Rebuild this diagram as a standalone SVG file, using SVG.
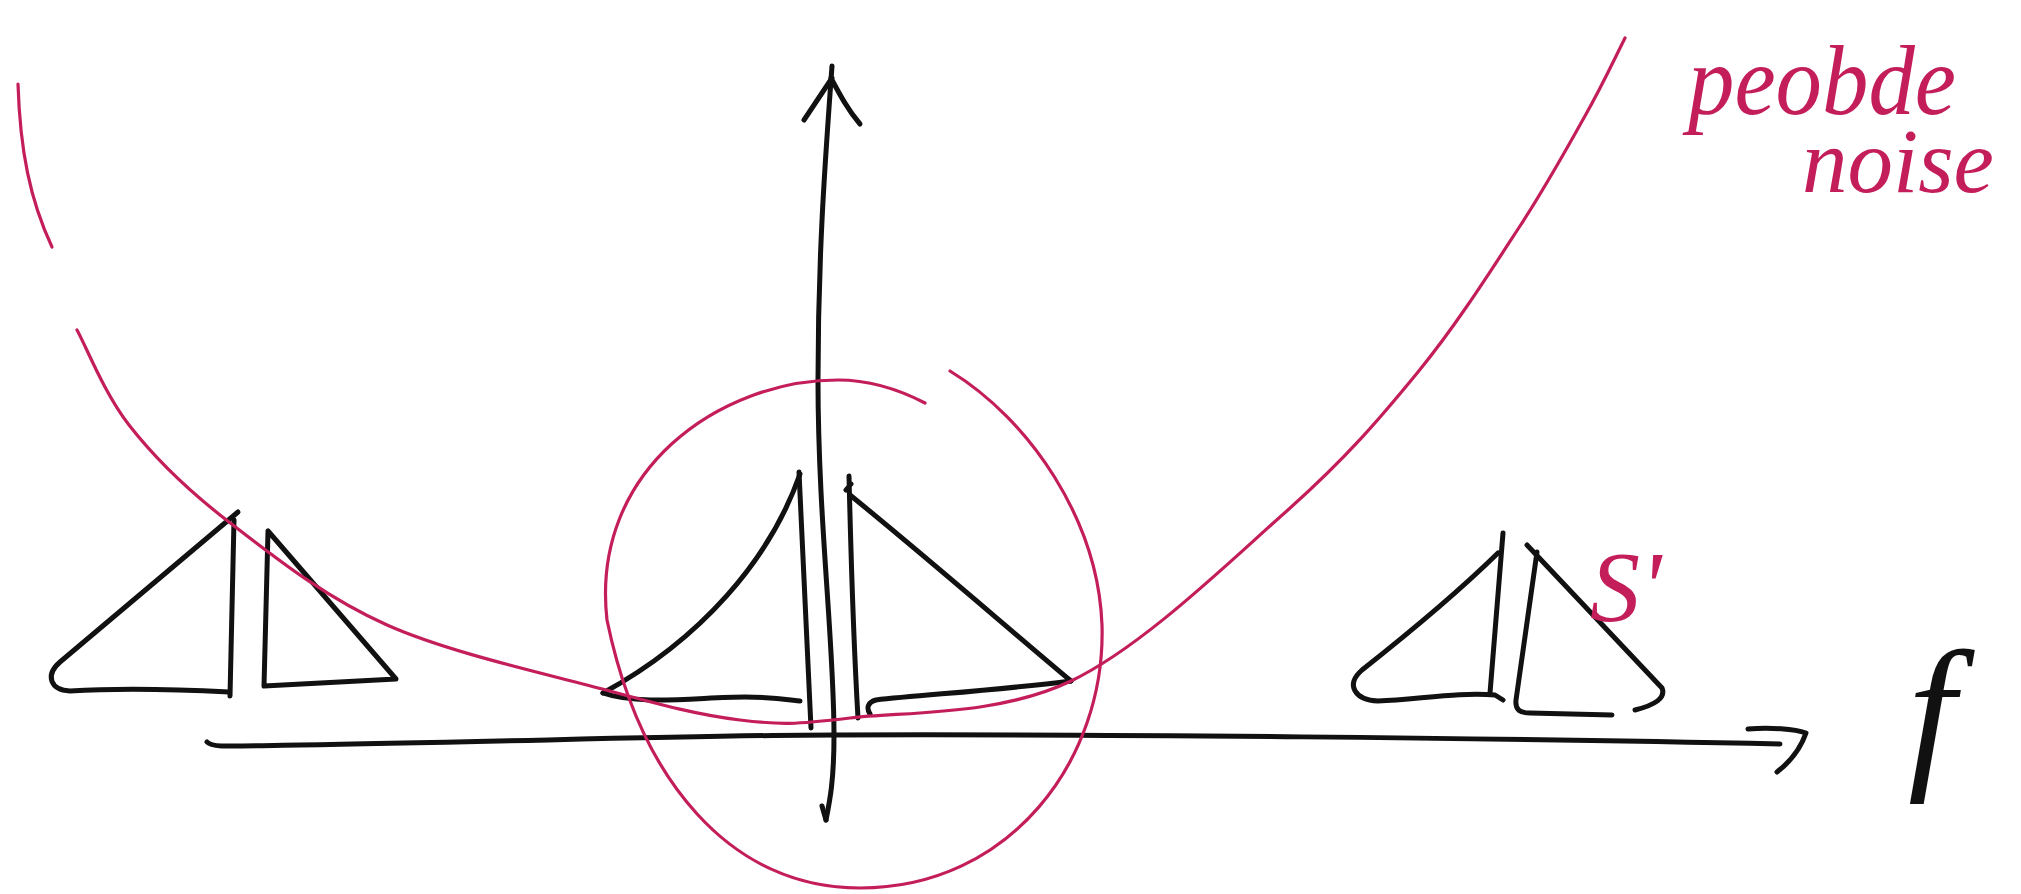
<svg xmlns="http://www.w3.org/2000/svg" width="2021" height="894" viewBox="0 0 2021 894">
<style>
.ink{fill:none;stroke:#111;stroke-width:5;stroke-linecap:round;stroke-linejoin:round}
.red{fill:none;stroke:#c41e5a;stroke-width:3.2;stroke-linecap:round;stroke-linejoin:round}
.lbl{font-family:"Liberation Serif",serif;font-style:italic}
</style>
<rect width="2021" height="894" fill="#fff"/>
<g id="axes">
  <path class="ink" d="M 826,820 C 830,800 834,780 834,735 C 834,640 818,520 818,380 C 818,250 826,150 832,66"/>
  <path class="ink" d="M 826,820 L 822,806"/>
  <path class="ink" d="M 832,78 L 804,120 M 831,78 C 840,95 848,110 860,124" />
  <path class="ink" d="M 207,742 C 212,748 230,746 300,745 C 500,742 700,735 835,735 C 1100,734 1500,738 1780,744"/>
  <path class="ink" d="M 1748,729 C 1770,727 1795,729 1806,733 C 1800,750 1790,762 1777,772"/>
</g>
<g id="boat-left">
  <path class="ink" d="M 238,512 L 60,662 C 45,675 50,690 70,691 C 120,688 190,690 229,692"/>
  <path class="ink" d="M 234,520 L 230,696"/>
  <path class="ink" d="M 268,531 L 264,686 L 396,679 Z"/>
</g>
<g id="boat-center">
  <path class="ink" d="M 800,474 C 770,560 700,640 603,693"/>
  <path class="ink" d="M 603,693 C 640,706 700,697 745,697 C 770,697 790,700 800,701"/>
  <path class="ink" d="M 799,472 C 803,560 808,650 811,728"/>
  <path class="ink" d="M 849,476 C 851,560 854,650 858,718 M 846,490 L 851,484"/>
  <path class="ink" d="M 850,495 C 930,560 1010,630 1071,681"/>
  <path class="ink" d="M 1071,681 C 1000,690 920,695 876,700 C 868,702 866,708 870,714"/>
</g>
<g id="boat-right">
  <path class="ink" d="M 1503,533 L 1490,693"/>
  <path class="ink" d="M 1498,553 C 1450,600 1400,640 1362,670 C 1345,685 1355,700 1378,701 C 1420,699 1460,692 1495,695 L 1503,700"/>
  <path class="ink" d="M 1527,545 L 1662,688 C 1666,698 1655,705 1635,710"/>
  <path class="ink" d="M 1537,552 L 1516,700 C 1515,710 1520,713 1530,713 L 1612,715"/>
</g>
<g id="noise-curve">
  <path class="red" d="M 18,84 C 20,150 30,200 52,247"/>
  <path class="red" d="M 77,330 C 86,346 104,393 129,425 C 154,457 186,489 229,522 C 272,555 324,597 387,625 C 450,653 547,674 606,690 C 665,706 699,715 740,720 C 781,725 795,724.5 850,718 C 905,711.5 998,716 1071,681 C 1144,646 1231,560 1289,509 C 1347,457 1379.5,419 1418,372 C 1456.5,325 1492,269 1520,226 C 1548,183 1567.5,147 1585,116 C 1602.5,85 1612,64 1625,38"/>
</g>
<g id="circle">
  <path class="red" d="M 950,371 C 1030,420 1098,520 1102,625 C 1106,760 1010,888 860,888 C 730,888 640,780 607,620 C 590,470 720,380 838,380 C 870,380 900,390 925,403"/>
</g>
<g id="labels">
  <text class="lbl" x="1688" y="114" font-size="100" fill="#c41e5a" textLength="268" lengthAdjust="spacingAndGlyphs">peobde</text>
  <text class="lbl" x="1802" y="192" font-size="92" fill="#c41e5a" textLength="192" lengthAdjust="spacingAndGlyphs">noise</text>
  <text class="lbl" x="1590" y="620" font-size="100" fill="#c41e5a">S'</text>
  <text class="lbl" x="1908" y="768" font-size="170" fill="#111">f</text>
</g>
</svg>
